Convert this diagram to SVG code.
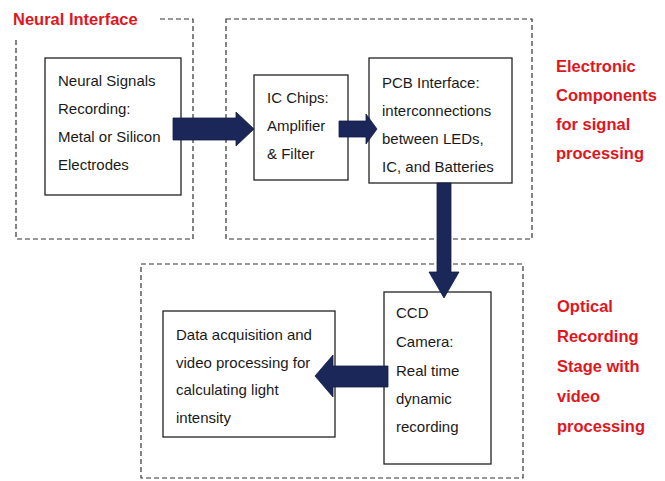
<svg xmlns="http://www.w3.org/2000/svg" width="665" height="481" viewBox="0 0 665 481">
<style>
.dash{fill:none;stroke:#333;stroke-width:1.2;stroke-dasharray:5 3}
.box{fill:#fff;stroke:#222;stroke-width:1.3}
.t{font-family:"Liberation Sans",Arial,sans-serif;font-size:15px;fill:#1a1a1a}
.r{font-family:"Liberation Sans",Arial,sans-serif;font-size:16.5px;font-weight:bold;fill:#e0161e}
.arr{fill:#1c2759;stroke:#131c45;stroke-width:0.8}
</style>
<rect width="665" height="481" fill="#fff"/>
<g id="neural-interface">
<rect class="dash" x="16" y="19" width="177" height="220"/>
<rect x="8" y="6" width="152" height="34" fill="#fff"/>
<text class="r" x="13" y="25">Neural Interface</text>
</g>
<g id="electronic-components">
<rect class="dash" x="226" y="19" width="306" height="220"/>
<text class="r" x="556" y="72">Electronic</text>
<text class="r" x="556" y="101">Components</text>
<text class="r" x="556" y="130">for signal</text>
<text class="r" x="556" y="159">processing</text>
</g>
<g id="optical-stage">
<rect class="dash" x="141" y="264" width="382" height="214"/>
<text class="r" x="557" y="312">Optical</text>
<text class="r" x="557" y="342">Recording</text>
<text class="r" x="557" y="372">Stage with</text>
<text class="r" x="557" y="402">video</text>
<text class="r" x="557" y="432">processing</text>
</g>
<g id="neural-signals">
<rect class="box" x="45" y="58" width="136" height="137"/>
<text class="t" x="58" y="86">Neural Signals</text>
<text class="t" x="58" y="114">Recording:</text>
<text class="t" x="58" y="142">Metal or Silicon</text>
<text class="t" x="58" y="170">Electrodes</text>
</g>
<g id="ic-chips">
<rect class="box" x="254" y="75" width="94" height="105"/>
<text class="t" x="267" y="103">IC Chips:</text>
<text class="t" x="267" y="131">Amplifier</text>
<text class="t" x="267" y="159">&amp; Filter</text>
</g>
<g id="pcb-interface">
<rect class="box" x="369" y="58" width="143" height="125"/>
<text class="t" x="382" y="88">PCB Interface:</text>
<text class="t" x="382" y="116">interconnections</text>
<text class="t" x="382" y="144">between LEDs,</text>
<text class="t" x="382" y="172">IC, and Batteries</text>
</g>
<g id="ccd-camera">
<rect class="box" x="384" y="292" width="107" height="172"/>
<text class="t" x="396" y="318">CCD</text>
<text class="t" x="396" y="347">Camera:</text>
<text class="t" x="396" y="376">Real time</text>
<text class="t" x="396" y="404">dynamic</text>
<text class="t" x="396" y="432">recording</text>
</g>
<g id="data-acquisition">
<rect class="box" x="163" y="311" width="172" height="126"/>
<text class="t" x="176" y="340">Data acquisition and</text>
<text class="t" x="176" y="368">video processing for</text>
<text class="t" x="176" y="395">calculating light</text>
<text class="t" x="176" y="423">intensity</text>
</g>
<g id="connectors">
<polygon class="arr" points="173,118 236,118 236,112 254,129 236,146 236,140 173,140"/>
<polygon class="arr" points="339,121 366,121 366,114 377,129 366,144 366,137 339,137"/>
<polygon class="arr" points="437,183 451,183 451,272 459,272 444,298 429,272 437,272"/>
<polygon class="arr" points="388,366 333,366 333,355 315,376 333,397 333,387 388,387"/>
</g>
</svg>
